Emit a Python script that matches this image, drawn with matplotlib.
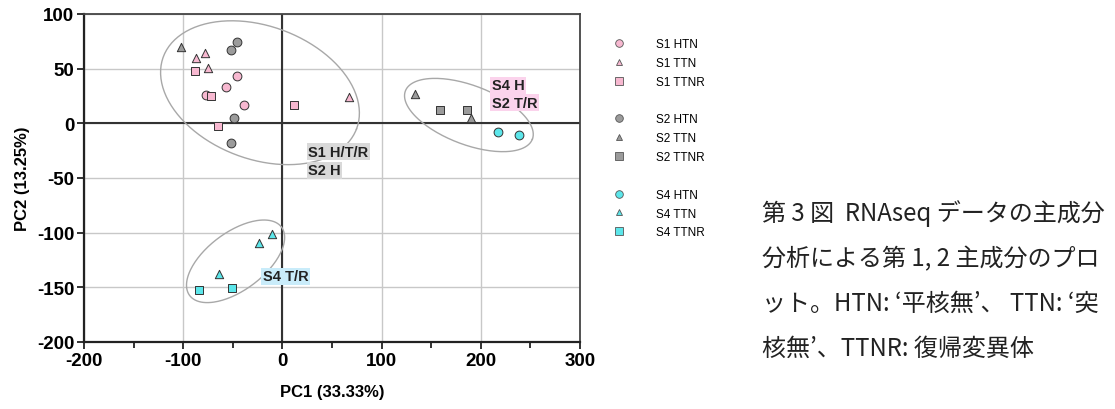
import numpy as np
import matplotlib
matplotlib.use("Agg")
import matplotlib.pyplot as plt
from matplotlib.lines import Line2D

# PCA scores
s1_htn_x = [-77, -57, -46, -39]
s1_htn_y = [26, 33, 43, 17]
s1_ttn_x = [-87, -78, -75, 67]
s1_ttn_y = [60, 64, 51, 24]
s1_ttnr_x = [-88, -72, -65, 12]
s1_ttnr_y = [48, 25, -2, 17]

s2_htn_x = [-46, -52, -49, -52]
s2_htn_y = [74, 67, 5, -18]
s2_ttn_x = [-102, 134, 190]
s2_ttn_y = [70, 27, 5]
s2_ttnr_x = [159, 186]
s2_ttnr_y = [12, 12]

s4_htn_x = [217, 239]
s4_htn_y = [-8, -11]
s4_ttn_x = [-10, -24, -64]
s4_ttn_y = [-101, -109, -138]
s4_ttnr_x = [-84, -51]
s4_ttnr_y = [-152, -151]

# cluster ellipses: centre, semi-axis vectors (data units)
ell_center = [(-22.6, 28.0), (188.0, 7.6), (-47.2, -126.2)]
ell_u = [(97.3, -33.2), (64.0, -22.1), (46.2, 31.4)]
ell_v = [(24.0, 56.8), (10.7, 25.2), (-17.7, 21.0)]

# group labels
grp_text = ["S1 H/T/R", "S2 H", "S4 H", "S2 T/R", "S4 T/R"]
grp_x = [26, 26, 211, 211, -20]
grp_y = [-26, -43, 35, 19, -140]
grp_bg = ["#d9d9d9", "#d9d9d9", "#fbd3ec", "#fbd3ec", "#c9ecfa"]

caption = ["第 3 図  RNAseq データの主成分",
           "分析による第 1, 2 主成分のプロ",
           "ット。HTN: ‘平核無’、 TTN: ‘突",
           "核無’、TTNR: 復帰変異体"]

pink = "#f7b8d0"
grey = "#9b9b9b"
cyan = "#5ce6ea"

plt.rcParams['font.family'] = ['Liberation Sans', 'DejaVu Sans']
plt.rcParams['axes.unicode_minus'] = False

W, H = 1115, 410
fig = plt.figure(figsize=(W / 100, H / 100), dpi=100)
ax = fig.add_axes([84 / W, 1 - 343 / H, (580 - 84) / W, (343 - 15) / H])

ax.set_xlim(-200, 300)
ax.set_ylim(-200, 100)
ax.set_xticks([-200, -100, 0, 100, 200, 300])
ax.set_xticks([-150, -50, 50, 150, 250], minor=True)
ax.set_yticks([-200, -150, -100, -50, 0, 50, 100])
ax.grid(True, color="#c8c8c8", lw=1)
ax.set_axisbelow(True)
ax.axhline(0, color="#333333", lw=1.5, zorder=1)
ax.axvline(0, color="#333333", lw=1.5, zorder=1)

for s in ["left", "bottom"]:
    ax.spines[s].set_linewidth(1.6)
    ax.spines[s].set_color("#222222")
for s in ["top", "right"]:
    ax.spines[s].set_linewidth(1.3)
    ax.spines[s].set_color("#444444")
ax.tick_params(which="both", direction="out", width=1.3, color="#222222")
ax.tick_params(which="major", length=5, labelsize=13.5, pad=2)
ax.tick_params(which="minor", length=4)
for lab in ax.get_xticklabels() + ax.get_yticklabels():
    lab.set_fontweight("bold")
ax.set_xlabel("PC1 (33.33%)", fontsize=12, fontweight="bold", labelpad=11)
ax.set_ylabel("PC2 (13.25%)", fontsize=12, fontweight="bold", labelpad=5)

t = np.linspace(0, 2 * np.pi, 200)
for c, u, v in zip(ell_center, ell_u, ell_v):
    ex = c[0] + u[0] * np.cos(t) + v[0] * np.sin(t)
    ey = c[1] + u[1] * np.cos(t) + v[1] * np.sin(t)
    ax.plot(ex, ey, color="#a8a8a8", lw=1.0, zorder=2)

series = [
    (s1_htn_x, s1_htn_y, "o", pink, "S1 HTN"),
    (s1_ttn_x, s1_ttn_y, "^", pink, "S1 TTN"),
    (s1_ttnr_x, s1_ttnr_y, "s", pink, "S1 TTNR"),
    (s2_htn_x, s2_htn_y, "o", grey, "S2 HTN"),
    (s2_ttn_x, s2_ttn_y, "^", grey, "S2 TTN"),
    (s2_ttnr_x, s2_ttnr_y, "s", grey, "S2 TTNR"),
    (s4_htn_x, s4_htn_y, "o", cyan, "S4 HTN"),
    (s4_ttn_x, s4_ttn_y, "^", cyan, "S4 TTN"),
    (s4_ttnr_x, s4_ttnr_y, "s", cyan, "S4 TTNR"),
]
handles = []
for i, (x, y, m, col, lab) in enumerate(series):
    ax.scatter(x, y, marker=m, s=40 if m != "^" else 36, c=col,
               edgecolors="#333333", linewidths=0.7, zorder=3)
    handles.append(Line2D([], [], ls="", marker=m, markersize=5.5 if m != "^" else 5,
                          markerfacecolor=col, markeredgecolor="#555555",
                          markeredgewidth=0.6, label=lab))
    if i in (2, 5):
        handles.append(Line2D([], [], ls="", label=" "))

for txt, x, y, bg in zip(grp_text, grp_x, grp_y, grp_bg):
    ax.text(x, y, txt, fontsize=10.5, fontweight="bold", color="#222222",
            ha="left", va="center", zorder=4,
            bbox=dict(boxstyle="square,pad=0.1", fc=bg, ec="none"))

fig.legend(handles=handles, loc="upper left",
           bbox_to_anchor=(613 / W, 1 - 39 / H), frameon=False,
           fontsize=8.5, handlelength=1.0, handletextpad=2.6,
           labelspacing=0.58, borderpad=0, borderaxespad=0)

for i, line in enumerate(caption):
    fig.text(762 / W, 1 - (214 + 45 * i) / H, line, fontsize=17.3, color="#222222",
             ha="left", va="center",
             family=["Noto Sans CJK JP", "DejaVu Sans"])

fig.savefig("out.png", dpi=100)
